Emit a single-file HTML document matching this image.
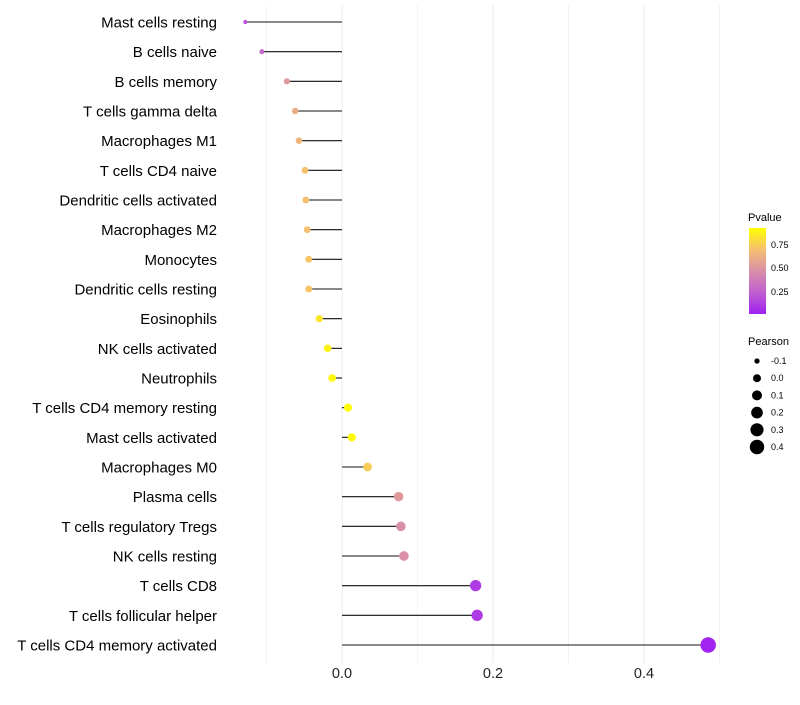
<!DOCTYPE html>
<html><head><meta charset="utf-8"><style>
body{margin:0;background:#fff;font-family:"Liberation Sans",sans-serif}
</style></head><body>
<svg id="c" width="800" height="700" xmlns="http://www.w3.org/2000/svg">
<defs><linearGradient id="pg" x1="0" y1="1" x2="0" y2="0">
<stop offset="0" stop-color="#a020f0"/><stop offset="0.25" stop-color="#c060d0"/><stop offset="0.5" stop-color="#d98fa8"/><stop offset="0.75" stop-color="#f5c070"/><stop offset="1" stop-color="#ffff00"/></linearGradient></defs>
<g id="grid"></g>
<g id="marks"></g>
<g id="ylab"></g>
<g id="xlab"></g>
<g font-size="10">
<text x="748" y="221" font-size="11">Pvalue</text>
<rect x="749" y="228" width="17" height="86" fill="url(#pg)"/>
<text x="771" y="248" font-size="9">0.75</text>
<text x="771" y="271" font-size="9">0.50</text>
<text x="771" y="295" font-size="9">0.25</text>
</g>
<g id="sleg">
<text x="748" y="345" font-size="11">Pearson</text>
</g>
</svg>
<script>
const categories=["Mast cells resting","B cells naive","B cells memory","T cells gamma delta","Macrophages M1","T cells CD4 naive","Dendritic cells activated","Macrophages M2","Monocytes","Dendritic cells resting","Eosinophils","NK cells activated","Neutrophils","T cells CD4 memory resting","Mast cells activated","Macrophages M0","Plasma cells","T cells regulatory  Tregs ","NK cells resting","T cells CD8","T cells follicular helper","T cells CD4 memory activated"];
const pearson=[-0.128,-0.106,-0.073,-0.062,-0.057,-0.049,-0.048,-0.046,-0.044,-0.044,-0.030,-0.019,-0.013,0.008,0.013,0.034,0.075,0.078,0.082,0.177,0.179,0.485];
const pvalues=[0.2,0.3,0.55,0.65,0.7,0.75,0.75,0.75,0.77,0.77,0.9,0.95,0.97,0.99,0.98,0.8,0.55,0.5,0.5,0.1,0.1,0.01];
const xTicks=[0,0.2,0.4];
const minorTicks=[-0.1,0.1,0.3,0.5];
const sizeBreaks=[-0.1,0,0.1,0.2,0.3,0.4];
const NS="http://www.w3.org/2000/svg";
const xs=v=>342+v*755;
const ys=i=>22+i*(623/21);
const rs=v=>Math.sqrt(Math.max(1.5,16+90*v));
const stops=[[0,[160,32,240]],[0.25,[192,96,208]],[0.5,[217,143,168]],[0.75,[245,192,112]],[1,[255,255,0]]];
function col(p){for(let k=1;k<stops.length;k++){if(p<=stops[k][0]){const a=stops[k-1],b=stops[k],t=(p-a[0])/(b[0]-a[0]);return 'rgb('+a[1].map((c,j)=>Math.round(c+(b[1][j]-c)*t)).join(',')+')';}}return 'rgb(255,255,0)';}
function mk(tag,at,parent){const e=document.createElementNS(NS,tag);for(const k in at)e.setAttribute(k,at[k]);document.getElementById(parent).appendChild(e);return e;}
minorTicks.forEach(t=>{const l=mk('line',{x1:xs(t),x2:xs(t),y1:5,y2:663,stroke:'#f3f3f3','stroke-width':1},'grid');

});
xTicks.forEach(t=>{const l=mk('line',{x1:xs(t),x2:xs(t),y1:5,y2:663,stroke:'#ebebeb','stroke-width':1},'grid');


const tx=mk('text',{x:xs(t),y:678,'text-anchor':'middle','font-size':14.5,fill:'#222'},'xlab');tx.textContent=t.toFixed(1);

});
categories.forEach((c,i)=>{const y=ys(i);
const l=mk('line',{x1:xs(0),x2:xs(pearson[i]),y1:y,y2:y,stroke:'#111','stroke-width':1.1},'marks');


const p=mk('circle',{cx:xs(pearson[i]),cy:y,r:rs(pearson[i]),fill:col(pvalues[i])},'marks');


const t=mk('text',{x:217,y:y+5.5,'text-anchor':'end','font-size':15,fill:'#000','xml:space':'preserve'},'ylab');t.textContent=c;

});
sizeBreaks.forEach((v,k)=>{const y=361+k*17.2;
const c=mk('circle',{cx:757,cy:y,r:rs(v),fill:'#000'},'sleg');


const t=mk('text',{x:771,y:y+3,'font-size':9},'sleg');t.textContent=v.toFixed(1);

});
</script>
</body></html>
